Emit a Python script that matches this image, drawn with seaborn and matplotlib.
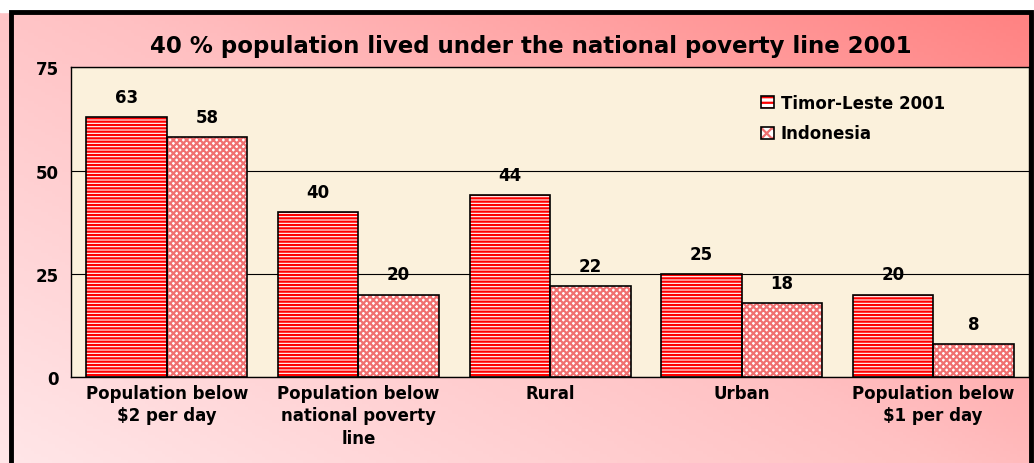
import numpy as np
import pandas as pd
import matplotlib
matplotlib.use("Agg")
import matplotlib.pyplot as plt
from matplotlib.patches import Rectangle
from matplotlib.colors import LinearSegmentedColormap
from matplotlib.legend_handler import HandlerTuple
import seaborn as sns

categories = ["Population below\n$2 per day", "Population below\nnational poverty\nline", "Rural", "Urban",
              "Population below\n$1 per day"]
timor = [63, 40, 44, 25, 20]
indonesia = [58, 20, 22, 18, 8]
series = ["Timor-Leste 2001", "Indonesia"]

df = pd.DataFrame({
    "cat": categories * 2,
    "val": timor + indonesia,
    "series": [series[0]] * 5 + [series[1]] * 5,
})

sns.set_style("white")
plt.rcParams['font.family'] = ['DejaVu Sans']
plt.rcParams['text.color'] = 'black'
plt.rcParams['xtick.color'] = 'black'
plt.rcParams['ytick.color'] = 'black'
plt.rcParams['hatch.linewidth'] = 1.6

fig = plt.figure(figsize=(10.34, 4.64), dpi=100)

# pink gradient background with black frame
bg = fig.add_axes([0, 0, 1, 1])
xx, yy = np.meshgrid(np.linspace(0, 1, 300), np.linspace(0, 1, 150))
grad = (xx * 0.55 + yy * 0.45)
cmap = LinearSegmentedColormap.from_list("pk", ["#FFE6E8", "#FFC0C2", "#FF8080"])
bg.imshow(grad, cmap=cmap, origin="lower", extent=[0, 1, 0, 1], aspect="auto")
bg.add_patch(Rectangle((0, 0.972), 1, 0.1, color="white", zorder=2))
bg.add_patch(Rectangle((0.0105, -0.05), 0.987, 1.022, fill=False, edgecolor="black", lw=3.5, zorder=3))
bg.set_xlim(0, 1)
bg.set_ylim(0, 1)
bg.axis("off")

ax = fig.add_axes([0.0687, 0.185, 0.9265, 0.668])
ax.set_facecolor("#FBF1DC")
sns.barplot(data=df, x="cat", y="val", hue="series", ax=ax, width=0.84,
            palette=["red", "#F08080"], saturation=1, legend=False)

hatches = ["-----", "xxxxx"]
cols = ["#FF0000", "#F07070"]
for container, h, col in zip(ax.containers, hatches, cols):
    for bar in container:
        bar.set_facecolor("white")
        bar.set_edgecolor(col)
        bar.set_hatch(h)
        bar.set_linewidth(0)
        ax.add_patch(Rectangle(bar.get_xy(), bar.get_width(), bar.get_height(),
                               fill=False, edgecolor="black", lw=1.2, zorder=3))
    ax.bar_label(container, padding=8, fontsize=12, fontweight="bold")

ax.set_ylim(0, 75)
ax.set_xlim(-0.5, 4.5)
ax.set_yticks([0, 25, 50, 75])
ax.yaxis.grid(True, color="black", lw=0.8)
ax.set_axisbelow(True)
ax.set_xlabel("")
ax.set_ylabel("")
ax.set_xticks(range(5))
ax.set_xticklabels(categories, fontsize=12, fontweight="bold", linespacing=1.3)
ax.tick_params(axis="x", length=0, pad=5)
ax.set_xticks(np.arange(-0.5, 5, 1), minor=True)
ax.tick_params(axis="x", which="minor", length=5, direction="out")
ax.tick_params(axis="y", length=5, direction="out", labelsize=12)
for lbl in ax.get_yticklabels():
    lbl.set_fontweight("bold")
for s in ax.spines.values():
    s.set_color("black")
    s.set_linewidth(1)

handles = []
for c, h in zip(cols, ["---", "xxx"]):
    fillp = Rectangle((0, 0), 1, 1, facecolor="white", edgecolor=c, hatch=h, lw=0)
    edge = Rectangle((0, 0), 1, 1, fill=False, edgecolor="black", lw=1.2)
    handles.append((fillp, edge))
ax.legend(handles, series, loc="upper left", bbox_to_anchor=(0.705, 0.962), frameon=False,
          prop={"weight": "bold", "size": 12}, handlelength=0.75, handleheight=0.75,
          handletextpad=0.4, labelspacing=0.75,
          handler_map={tuple: HandlerTuple(ndivide=1, pad=0)})

fig.text(0.513, 0.9, "40 % population lived under the national poverty line 2001",
         ha="center", va="center", fontsize=16.5, fontweight="bold")

fig.savefig("out.png", dpi=100)
